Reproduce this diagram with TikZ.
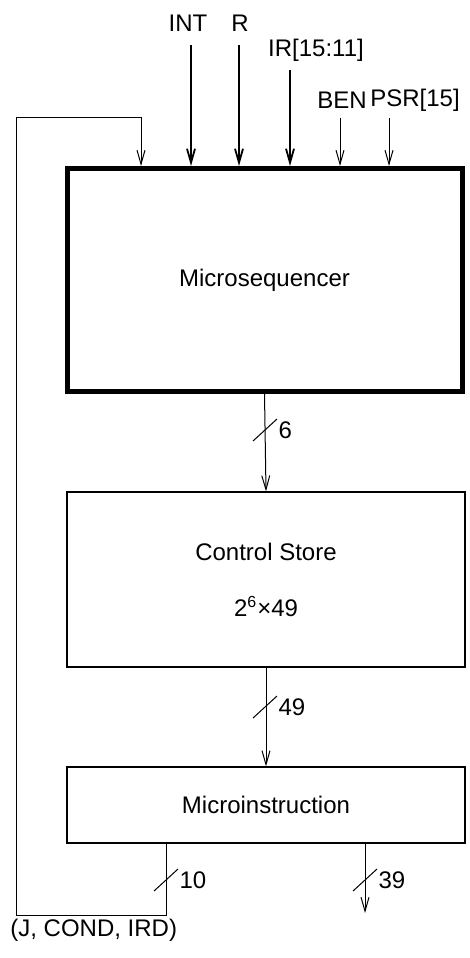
\documentclass[tikz,border=0pt]{standalone}
\usepackage{fontspec}
\setmainfont{Liberation Sans}
\usetikzlibrary{arrows.meta}
\tikzset{
  unit/.style={draw, line width=0.6pt, minimum width=199pt, align=center},
  bus/.style={line width=0.5pt, ->},
  sig/.style={line width=0.9pt, ->}
}
\begin{document}
\begin{tikzpicture}[x=0.5pt,y=-0.5pt,
    >={Straight Barb[length=7pt,width=4pt]},
    font=\fontsize{12}{14}\selectfont]
  \useasboundingbox (0,0) rectangle (470,958);

  % Draw nodes
  \node[draw,line width=2.5pt,minimum width=197.5pt,minimum height=111.5pt] (mseq) at (264.5,280) {Microsequencer};
  \node[unit,minimum height=87.5pt] (cstore) at (266,579.5) {Control Store\\[14pt]2\textsuperscript{6}×49};
  \node[unit,minimum height=38pt] (minst) at (266,805) {Microinstruction};

  % Inputs
  \node (lINT) at (188,23) {INT};
  \node (lR) at (240,23) {R};
  \node (lIR) at (316,50) {IR[15:11]};
  \node (lBEN) at (342,100) {BEN};
  \node (lPSR) at (415,100) {PSR[15]};
  \foreach \x/\y [count=\i] in {191/45,239/45,290/70,340/118,389/118}
    \coordinate (in\i) at (\x,\y);
  \foreach \i in {1,2,3} \draw[sig] (in\i) -- (in\i |- mseq.north);
  \foreach \i in {4,5} \draw[bus] (in\i) -- (in\i |- mseq.north);

  % Draw edges
  \draw[bus] (mseq.south) -- (cstore.north);
  \draw[bus] (cstore.south) -- (minst.north);
  \coordinate (fbx) at (166,900);
  \coordinate (fb1) at (16,915);
  \coordinate (fb2) at (141,117);
  \draw[bus] (minst.south -| fbx) |- (fb1) |- (fb2) -- (fb2 |- mseq.north);
  \coordinate (out39) at (365,913);
  \draw[bus] (minst.south -| out39) -- (out39);

  % Bus widths
  \foreach \x/\y/\n in {265/430/6,265/707/49,166/880/10,365/880/39}
    \draw[line width=0.5pt] (\x-12,\y+11) -- (\x+12,\y-11)
      node[anchor=west,inner sep=1pt] (w\n) at (\x+11,\y) {\n};

  % Labels
  \node[anchor=west,inner sep=0pt] (jcond) at (10,930) {(J, COND, IRD)};
\end{tikzpicture}
\end{document}
